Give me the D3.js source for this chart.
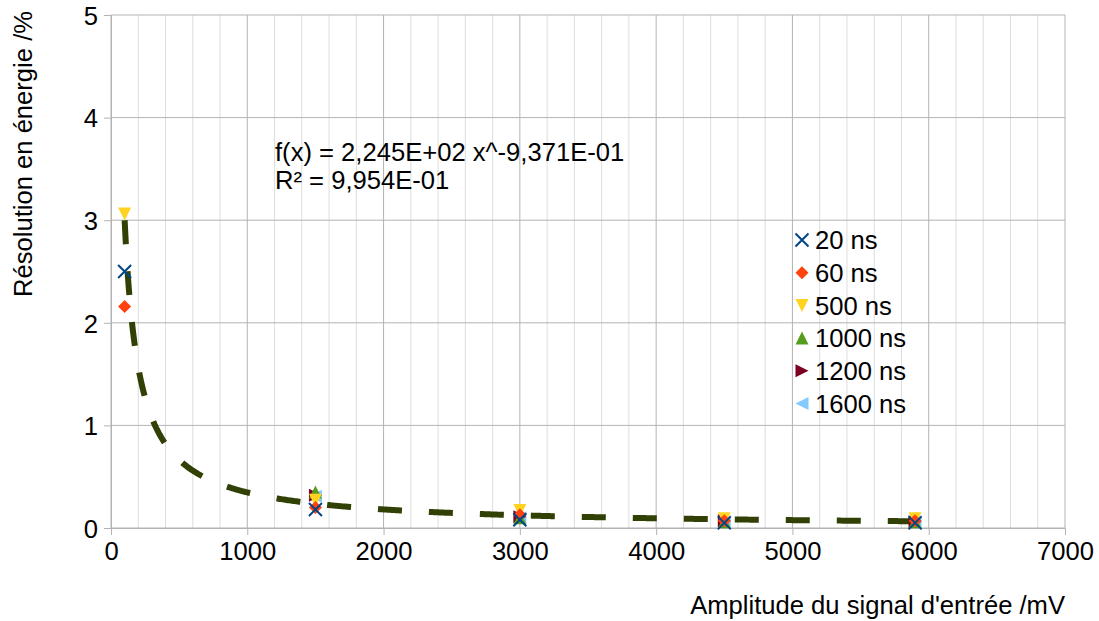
<!DOCTYPE html>
<html>
<head>
<meta charset="utf-8">
<script src="https://cdn.jsdelivr.net/npm/d3@7"></script>
<style>
  html, body { margin: 0; padding: 0; background: #fff; }
  svg { display: block; font-family: "Liberation Sans", Arial, sans-serif; }
</style>
</head>
<body>
<svg id="chart" width="1099" height="621"></svg>
<script>
// ---- data ----
const amplitudes = [100, 1500, 3000, 4500, 5900];
const seriesNames = ["20 ns", "60 ns", "500 ns", "1000 ns", "1200 ns", "1600 ns"];
const res20   = [2.50, 0.18, 0.08, 0.05, 0.05];
const res60   = [2.16, 0.20, 0.13, 0.07, 0.07];
const res500  = [3.06, 0.27, 0.17, 0.09, 0.09];
const res1000 = [null, 0.35, 0.10, 0.06, 0.06];
const res1200 = [null, 0.32, 0.11, 0.07, 0.06];
const res1600 = [null, 0.31, 0.10, 0.06, 0.06];
const xTicks = [0, 1000, 2000, 3000, 4000, 5000, 6000, 7000];
const yTicks = [0, 1, 2, 3, 4, 5];
// power trend line shown on chart: f(x) = a * x^b
const trendA = 224.5;
const trendB = -0.9371;
const trendRange = [100, 5900];
const equationLines = ["f(x) = 2,245E+02 x^-9,371E-01", "R² = 9,954E-01"];

const seriesValues = [res20, res60, res500, res1000, res1200, res1600];
const colors = ["#004586", "#ff420e", "#ffd320", "#579d1c", "#7e0021", "#83caff"];
const shapes = ["x", "diamond", "down", "up", "right", "left"];

// ---- layout ----
const svg = d3.select("#chart");
const x = d3.scaleLinear().domain([0, 7000]).range([111, 1065]);
const y = d3.scaleLinear().domain([0, 5]).range([528, 15]);
const FS = 25.6;

// minor vertical grid
const minor = d3.range(0, 7001, 200).filter(v => v % 1000 !== 0);
svg.append("g").selectAll("line").data(minor).join("line")
  .attr("x1", d => x(d)).attr("x2", d => x(d))
  .attr("y1", y(0)).attr("y2", y(5))
  .attr("stroke", "#dddddd").attr("stroke-width", 1);

// major grid
svg.append("g").selectAll("line").data(xTicks).join("line")
  .attr("x1", d => x(d)).attr("x2", d => x(d))
  .attr("y1", y(0)).attr("y2", y(5))
  .attr("stroke", "#b3b3b3").attr("stroke-width", 1);
svg.append("g").selectAll("line").data(yTicks).join("line")
  .attr("x1", x(0)).attr("x2", x(7000))
  .attr("y1", d => y(d)).attr("y2", d => y(d))
  .attr("stroke", "#b3b3b3").attr("stroke-width", 1);

// axes
const xAxis = d3.axisBottom(x).tickValues(xTicks).tickSize(7).tickPadding(6).tickFormat(d3.format("d"));
const yAxis = d3.axisLeft(y).tickValues(yTicks).tickSize(7).tickPadding(6).tickFormat(d3.format("d"));
const gx = svg.append("g").attr("transform", `translate(0,${y(0)})`).call(xAxis);
const gy = svg.append("g").attr("transform", `translate(${x(0)},0)`).call(yAxis);
[gx, gy].forEach(g => {
  g.select(".domain").attr("stroke", "#b3b3b3");
  g.selectAll(".tick line").attr("stroke", "#b3b3b3");
  g.selectAll(".tick text").attr("fill", "#000").attr("font-size", FS)
    .attr("font-family", "Liberation Sans, Arial, sans-serif");
});
gx.selectAll(".tick text").attr("dy", "0.75em");
gy.selectAll(".tick text").attr("dy", "0.36em");

// axis titles
svg.append("text").attr("x", 1065).attr("y", 614).attr("text-anchor", "end")
  .attr("font-size", FS).attr("fill", "#000").text("Amplitude du signal d'entrée /mV");
svg.append("text").attr("transform", "translate(32,154) rotate(-90)").attr("text-anchor", "middle")
  .attr("font-size", FS).attr("fill", "#000").text("Résolution en énergie /%");

// trend line
const trendXs = d3.range(trendRange[0], trendRange[1] + 1, 10);
const line = d3.line().x(d => x(d)).y(d => y(trendA * Math.pow(d, trendB)));
svg.append("path").datum(trendXs).attr("d", line)
  .attr("fill", "none").attr("stroke", "#314004").attr("stroke-width", 6)
  .attr("stroke-dasharray", "24,27").attr("stroke-linecap", "butt");

// equation
svg.append("g").selectAll("text").data(equationLines).join("text")
  .attr("x", 275).attr("y", (d, i) => 161 + i * 28)
  .attr("font-size", FS).attr("fill", "#000").text(d => d);

// markers
function markerPath(shape) {
  const s = 6.5;
  switch (shape) {
    case "diamond": return `M0,${-s}L${s},0L0,${s}L${-s},0Z`;
    case "down": return `M${-s},${-s}L${s},${-s}L0,${s}Z`;
    case "up": return `M${-s},${s}L${s},${s}L0,${-s}Z`;
    case "right": return `M${-s},${-s}L${s},0L${-s},${s}Z`;
    case "left": return `M${s},${-s}L${-s},0L${s},${s}Z`;
    case "x": return `M${-s},${-s}L${s},${s}M${-s},${s}L${s},${-s}`;
  }
}
function drawMarker(g, shape, color) {
  const p = g.append("path").attr("d", markerPath(shape));
  if (shape === "x") p.attr("fill", "none").attr("stroke", color).attr("stroke-width", 2);
  else p.attr("fill", color);
}

const order = d3.range(seriesNames.length).reverse();
order.forEach(si => {
  const pts = amplitudes.map((a, i) => ({a, v: seriesValues[si][i]})).filter(d => d.v != null);
  const g = svg.append("g");
  pts.forEach(d => {
    const mg = g.append("g").attr("transform", `translate(${x(d.a)},${y(d.v)})`);
    drawMarker(mg, shapes[si], colors[si]);
  });
});

// legend
const legend = svg.append("g");
seriesNames.forEach((name, i) => {
  const cy = 240 + i * 32.7;
  const mg = legend.append("g").attr("transform", `translate(802,${cy})`);
  drawMarker(mg, shapes[i], colors[i]);
  legend.append("text").attr("x", 815).attr("y", cy).attr("dy", "0.36em")
    .attr("font-size", FS).attr("fill", "#000").text(name);
});
</script>
</body>
</html>
